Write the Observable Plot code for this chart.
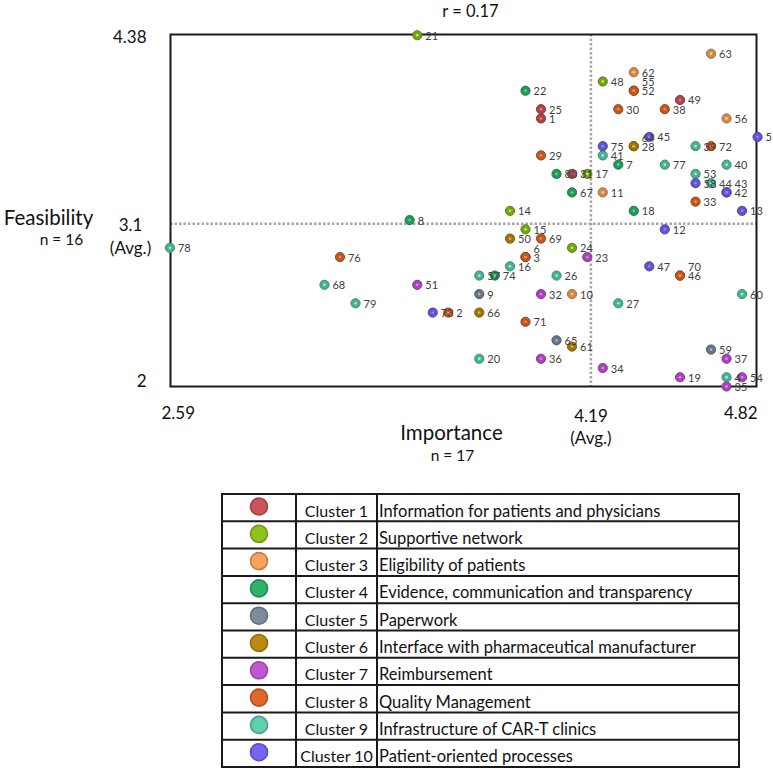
<!DOCTYPE html>
<html>
<head>
<meta charset="utf-8">
<script src="https://cdn.jsdelivr.net/npm/d3@7"></script>
<script src="https://cdn.jsdelivr.net/npm/@observablehq/plot@0.6"></script>
<style>
  html, body { margin: 0; padding: 0; background: #fff; }
  body { width: 773px; height: 772px; overflow: hidden; font-family: Lato, "Open Sans", sans-serif; }
  #chart svg, #legend svg { display: block; }
</style>
</head>
<body>
<div id="chart"></div>
<div id="legend"></div>
<script>
// ---- data ----
const ids = [1,2,3,4,5,6,7,8,9,10,11,12,13,14,15,16,17,18,19,20,21,22,23,24,25,26,27,28,29,30,31,32,33,34,35,36,37,38,39,40,41,42,43,44,45,46,47,48,49,50,51,52,53,54,55,56,57,58,59,60,61,62,63,64,65,66,67,68,69,70,71,72,73,74,75,76,77,78,79,80];
const importance = [4.000,3.647,3.941,4.706,4.824,3.941,4.294,3.500,3.765,4.118,4.235,4.471,4.765,3.882,3.941,3.882,4.176,4.353,4.529,3.765,3.529,3.941,4.176,4.118,4.000,4.059,4.294,4.353,4.000,4.294,4.118,4.000,4.588,4.235,4.706,4.000,4.706,4.471,4.588,4.706,4.235,4.706,4.706,4.647,4.412,4.529,4.412,4.235,4.529,3.882,3.529,4.353,4.588,4.765,4.353,4.706,3.765,4.588,4.647,4.765,4.118,4.353,4.647,4.353,4.059,3.765,4.118,3.176,4.000,4.529,3.941,4.647,3.588,3.824,4.235,3.235,4.471,2.588,3.294,4.059];
const feasibility = [3.8125,2.5,2.875,2.0625,3.6875,2.875,3.5,3.125,2.625,2.625,3.3125,3.0625,3.1875,3.1875,3.0625,2.8125,3.4375,3.1875,2.0625,2.1875,4.375,4.0,2.875,2.9375,3.875,2.75,2.5625,3.625,3.5625,3.875,3.4375,2.625,3.25,2.125,2.0,2.1875,2.1875,3.875,3.625,3.5,3.5625,3.3125,3.3125,3.375,3.6875,2.75,2.8125,4.0625,3.9375,3.0,2.6875,4.0,3.4375,2.0625,4.0,3.8125,2.75,3.375,2.25,2.625,2.27,4.125,4.25,3.625,2.3125,2.5,3.3125,2.6875,3.0,2.75,2.4375,3.625,2.5,2.75,3.625,2.875,3.5,2.9375,2.5625,3.4375];
const cluster = [1,8,8,9,10,8,4,4,5,3,3,10,10,2,2,9,2,4,7,9,2,4,7,2,1,9,9,6,8,8,1,7,8,7,7,7,7,8,9,9,9,10,10,9,10,8,10,2,1,6,7,8,9,7,8,3,9,10,5,9,6,3,3,6,5,6,4,9,8,8,8,8,10,4,10,8,9,9,9,4];

const clusterNames = ["Cluster 1","Cluster 2","Cluster 3","Cluster 4","Cluster 5","Cluster 6","Cluster 7","Cluster 8","Cluster 9","Cluster 10"];
const clusterDescriptions = ["Information for patients and physicians","Supportive network","Eligibility of patients","Evidence, communication and transparency","Paperwork","Interface with pharmaceutical manufacturer","Reimbursement","Quality Management","Infrastructure of CAR-T clinics","Patient-oriented processes"];
const clusterColors = ["#C9545A","#8DC21F","#F7A25E","#2DB36C","#7D8C9C","#BC8A12","#C356D6","#E2682A","#5ED0AE","#7465F2"];

const avgImportance = 4.19;
const avgFeasibility = 3.1;
const xTickValues = [2.59, 4.19, 4.82];
const xTickLabels = ["2.59", "4.19\n(Avg.)", "4.82"];
const yTickValues = [4.38, 3.1, 2];
const yTickLabels = ["4.38", "3.1\n(Avg.)", "2"];
const correlationLabel = "r = 0.17";
const xTitle = "Importance", xSub = "n = 17";
const yTitle = "Feasibility", ySub = "n = 16";

// ---- build table ----
const data = ids.map((id, i) => ({id, imp: importance[i], feas: feasibility[i], cluster: cluster[i]}));
const seen = new Map();
for (const d of data) {
  const k = d.imp + "," + d.feas;
  const n = seen.get(k) || 0;
  d.stack = n;
  seen.set(k, n + 1);
}
const base = c => clusterColors[c - 1];
const fillOf = d => d3.color(base(d.cluster)).darker(0.5).formatHex();
const strokeOf = d => d3.color(base(d.cluster)).darker(1.1).formatHex();
const hiOf = d => d3.color(base(d.cluster)).brighter(0.7).formatHex();

const txt = "#111";
const plot = Plot.plot({
  width: 773,
  height: 480,
  marginLeft: 170,
  marginRight: 17,
  marginTop: 34,
  marginBottom: 94,
  x: {domain: [2.59, 4.82], axis: null},
  y: {domain: [2, 4.38], axis: null},
  color: {type: "identity"},
  style: {fontFamily: "Lato, 'Open Sans', sans-serif", background: "white", overflow: "visible"},
  marks: [
    Plot.ruleX([avgImportance], {stroke: "#a6a6a6", strokeWidth: 2.5, strokeDasharray: "2.5,2"}),
    Plot.ruleY([avgFeasibility], {stroke: "#a6a6a6", strokeWidth: 2.5, strokeDasharray: "2.5,2"}),
    Plot.frame({stroke: "#1a1a1a", strokeWidth: 2}),
    Plot.dot(data, {x: "imp", y: "feas", r: 4.6, fill: fillOf, stroke: strokeOf, strokeWidth: 1}),
    Plot.dot(data, {x: "imp", y: "feas", r: 1.4, fill: hiOf, stroke: "none"}),
    Plot.text(data.filter(d => d.stack === 0), {x: "imp", y: "feas", text: d => String(d.id), textAnchor: "start", dx: 8, dy: 1, fontSize: 11, fill: "#404040"}),
    Plot.text(data.filter(d => d.stack > 0), {x: "imp", y: "feas", text: d => String(d.id), textAnchor: "start", dx: 8, dy: -8, fontSize: 11, fill: "#404040"}),
    // x tick labels
    Plot.text([xTickValues[0]], {x: d => d, text: () => xTickLabels[0], frameAnchor: "bottom", textAnchor: "start", lineAnchor: "top", dx: -9, dy: 20, fontSize: 17, fill: txt}),
    Plot.text([xTickValues[1]], {x: d => d, text: () => xTickLabels[1], frameAnchor: "bottom", textAnchor: "middle", lineAnchor: "top", dy: 20, lineHeight: 1.3, fontSize: 17, fill: txt}),
    Plot.text([xTickValues[2]], {x: d => d, text: () => xTickLabels[2], frameAnchor: "bottom", textAnchor: "end", lineAnchor: "top", dx: 1, dy: 20, fontSize: 17, fill: txt}),
    // y tick labels
    Plot.text([yTickValues[0]], {y: d => d, text: () => yTickLabels[0], frameAnchor: "left", textAnchor: "end", lineAnchor: "middle", dx: -24, dy: 3, fontSize: 17, fill: txt}),
    Plot.text([yTickValues[1]], {y: d => d, text: () => yTickLabels[1], frameAnchor: "left", textAnchor: "middle", lineAnchor: "top", dx: -40, dy: -9, lineHeight: 1.35, fontSize: 17, fill: txt}),
    Plot.text([yTickValues[2]], {y: d => d, text: () => yTickLabels[2], frameAnchor: "left", textAnchor: "end", lineAnchor: "middle", dx: -24, dy: -5, fontSize: 17, fill: txt}),
    // titles
    Plot.text([correlationLabel], {frameAnchor: "top", text: d => d, lineAnchor: "middle", dx: 7, dy: -23, fontSize: 16.5, fill: txt}),
    Plot.text([xTitle], {frameAnchor: "bottom", text: d => d, lineAnchor: "middle", dx: -12, dy: 47, fontSize: 20.5, fill: txt}),
    Plot.text([xSub], {frameAnchor: "bottom", text: d => d, lineAnchor: "middle", dx: -11, dy: 70, fontSize: 15.5, fill: txt}),
    Plot.text([yTitle], {frameAnchor: "left", text: d => d, textAnchor: "middle", lineAnchor: "middle", dx: -122, dy: 8, fontSize: 20.5, fill: txt}),
    Plot.text([ySub], {frameAnchor: "left", text: d => d, textAnchor: "middle", lineAnchor: "middle", dx: -109, dy: 30, fontSize: 15.5, fill: txt})
  ]
});
document.getElementById("chart").appendChild(plot);

// ---- legend table ----
const L = {left: 222, top: 14, rowH: 27.3, cols: [222, 296, 377, 739]};
const lsvg = d3.select("#legend").append("svg")
  .attr("width", 773).attr("height", 292)
  .style("font-family", "Lato, 'Open Sans', sans-serif");
const rows = clusterNames.map((name, i) => ({name, desc: clusterDescriptions[i], color: clusterColors[i], i}));
const bottom = L.top + rows.length * L.rowH;
const lineColor = "#1a1a1a";
for (let i = 0; i <= rows.length; i++) {
  lsvg.append("line").attr("x1", L.cols[0]).attr("x2", L.cols[3])
    .attr("y1", L.top + i * L.rowH).attr("y2", L.top + i * L.rowH)
    .attr("stroke", lineColor).attr("stroke-width", 2);
}
for (const cx of L.cols) {
  lsvg.append("line").attr("x1", cx).attr("x2", cx).attr("y1", L.top - 1).attr("y2", bottom + 1)
    .attr("stroke", lineColor).attr("stroke-width", 2);
}
const g = lsvg.selectAll("g.row").data(rows).join("g").attr("transform", d => `translate(0,${L.top + d.i * L.rowH})`);
g.append("circle").attr("cx", 259).attr("cy", 12.5).attr("r", 8.5)
  .attr("fill", d => d.color).attr("stroke", d => d3.color(d.color).darker(0.7).formatHex()).attr("stroke-width", 1.6);
g.append("text").attr("x", (L.cols[1] + L.cols[2]) / 2).attr("y", 22.5).attr("text-anchor", "middle")
  .attr("font-size", 16).attr("fill", txt).text(d => d.name);
g.append("text").attr("x", L.cols[2] + 2).attr("y", 22.5)
  .attr("font-size", 16.5).attr("fill", txt).text(d => d.desc);
</script>
</body>
</html>
